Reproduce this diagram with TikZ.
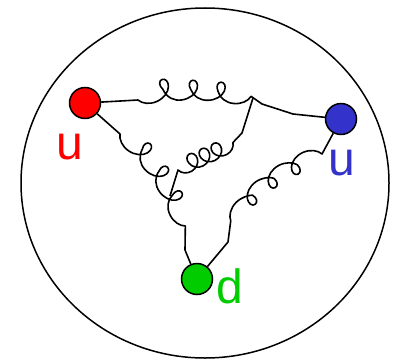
\documentclass[tikz,border=0pt]{standalone}
\usepackage{fontspec}
\setmainfont{Liberation Sans}
\usetikzlibrary{decorations.pathmorphing}
\definecolor{quarkred}{RGB}{255,0,0}
\definecolor{quarkblue}{RGB}{51,51,204}
\definecolor{quarkgreen}{RGB}{0,204,0}
\tikzset{
  quark/.style={circle, draw, line width=1.5pt, minimum size=31pt, inner sep=0pt},
  flavour/.style={anchor=base, inner sep=0pt, font=\fontsize{48}{48}\selectfont},
  gluon/.style={decoration={coil, mirror, amplitude=9pt, segment length=27pt, aspect=1.1}},
  tightgluon/.style={decoration={coil, mirror, amplitude=8pt, segment length=13pt, aspect=1}},
}
\begin{document}
\begin{tikzpicture}[x=1pt, y=-1pt, line width=1.6pt, line join=round]
\useasboundingbox (0,0) rectangle (395,361);
% Proton boundary
\draw[line width=1.5pt] (205,183) ellipse [x radius=184, y radius=175];
% Valence quarks
\node[quark, fill=quarkred] (qr) at (85,103) {};
\node[quark, fill=quarkblue] (qb) at (341,119) {};
\node[quark, fill=quarkgreen] (qd) at (197,279) {};
% Flavour labels
\node[flavour, text=quarkred] (lr) at (70,159) {u};
\node[flavour, text=quarkblue] (lb) at (342,175) {u};
\node[flavour, text=quarkgreen] (ld) at (230,303) {d};
% Gluon exchange between the quarks
\draw (qr) -- (138,100) decorate[gluon] {.. controls (165,88) and (230,88) .. (262,104)} -- (293,114) -- (qb);
\draw (qr) -- (120,134) decorate[gluon] {.. controls (152,156) and (184,205) .. (185,250)} -- (qd);
\draw (qb) -- (322,154) decorate[gluon] {.. controls (285,170) and (240,195) .. (228,242)} -- (qd);
% Three-gluon vertex: inner line joins the left and top gluons
\coordinate (gl) at (170,196);
\coordinate (gt) at (253,98);
\draw (gl) -- (178,170) decorate[tightgluon] {.. controls (200,157) and (225,150) .. (242,133)} -- (gt);
\end{tikzpicture}
\end{document}
